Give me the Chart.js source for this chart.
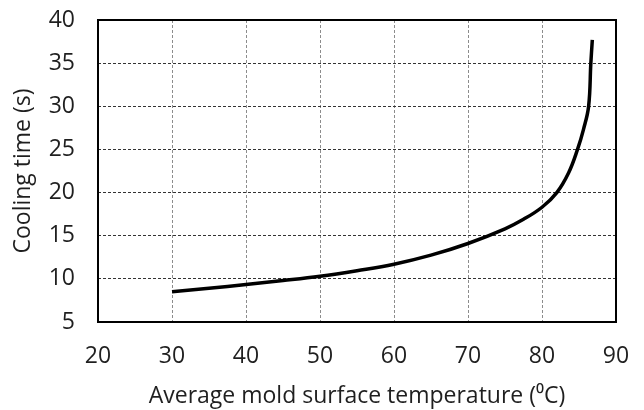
<!DOCTYPE html>
<html>
<head>
<meta charset="utf-8">
<script src="https://cdn.jsdelivr.net/npm/chart.js@4.4.0/dist/chart.umd.min.js"></script>
<style>
  html, body { margin: 0; padding: 0; background: #fff; }
  #wrap { width: 644px; height: 410px; }
</style>
</head>
<body>
<div id="wrap"><canvas id="coolChart" width="644" height="410"></canvas></div>
<script>
// Valeurs
const temperature = [30, 35, 40, 45, 50, 55, 60, 65, 70, 75, 77.5, 80, 82, 83.6, 84.8, 85.6, 86.3, 86.6, 86.8];
const coolingTime = [8.5, 8.9, 9.35, 9.8, 10.3, 10.95, 11.7, 12.75, 14.1, 15.8, 16.9, 18.3, 20.0, 22.3, 25.0, 27.3, 30.0, 35.0, 37.7];
const xTicks = [20, 30, 40, 50, 60, 70, 80, 90];
const yTicks = [5, 10, 15, 20, 25, 30, 35, 40];

const fontFamily = '"Open Sans", Lato, sans-serif';
const textColor = '#1f1f1f';

// Cadre noir autour de la zone de tracé
const framePlugin = {
    id: 'frame',
    afterDraw(chart) {
        const a = chart.chartArea;
        const ctx = chart.ctx;
        ctx.save();
        ctx.strokeStyle = '#000';
        ctx.lineWidth = 2;
        ctx.strokeRect(a.left, a.top, a.right - a.left, a.bottom - a.top);
        ctx.restore();
    }
};

const ctx = document.getElementById('coolChart').getContext('2d');
const chart = new Chart(ctx, {
    type: 'scatter',
    data: {
        datasets: [{
            data: temperature.map((t, i) => ({ x: t, y: coolingTime[i] })),
            showLine: true,
            borderColor: '#000',
            borderWidth: 3.5,
            pointRadius: 0,
            tension: 0.4
        }]
    },
    options: {
        responsive: false,
        animation: false,
        layout: { padding: { top: 20, right: 28, left: 0, bottom: 0 } },
        plugins: { legend: { display: false }, tooltip: { enabled: false } },
        scales: {
            x: {
                type: 'linear',
                min: 20,
                max: 90,
                afterBuildTicks: scale => { scale.ticks = xTicks.map(v => ({ value: v })); },
                afterFit: scale => {
                    scale.height = 88;
                    scale.paddingLeft = 0;
                    scale.paddingRight = 0;
                },
                grid: { color: '#8c8c8c', lineWidth: 1, drawTicks: false },
                border: { display: false, dash: [3, 2] },
                ticks: { color: textColor, font: { family: fontFamily, size: 23 }, padding: 21, maxRotation: 0 },
                title: {
                    display: true,
                    text: 'Average mold surface temperature (\u2070C)',
                    color: textColor,
                    font: { family: fontFamily, size: 23 },
                    padding: { top: 0, bottom: 0 }
                }
            },
            y: {
                min: 5,
                max: 40,
                afterBuildTicks: scale => { scale.ticks = yTicks.map(v => ({ value: v })); },
                afterFit: scale => {
                    scale.width = 98;
                    scale.paddingTop = 0;
                    scale.paddingBottom = 0;
                },
                grid: { color: '#333', lineWidth: 1, drawTicks: false },
                border: { display: false, dash: [3, 2] },
                ticks: { color: textColor, font: { family: fontFamily, size: 23 }, padding: 23 },
                title: {
                    display: true,
                    text: 'Cooling time (s)',
                    color: textColor,
                    font: { family: fontFamily, size: 23 },
                    padding: { top: 10, bottom: 0 }
                }
            }
        }
    },
    plugins: [framePlugin]
});
</script>
</body>
</html>
